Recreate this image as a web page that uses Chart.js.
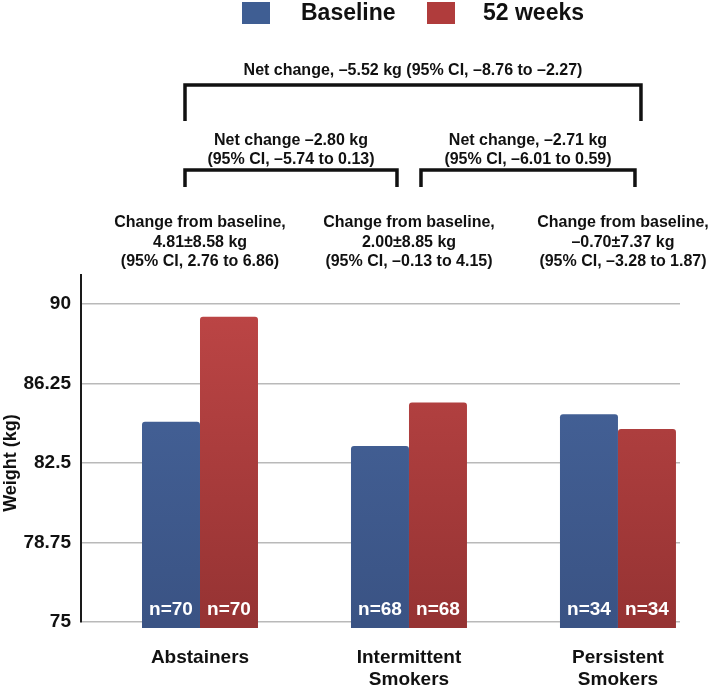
<!DOCTYPE html>
<html>
<head>
<meta charset="utf-8">
<script src="https://cdn.jsdelivr.net/npm/chart.js@4.4.0/dist/chart.umd.min.js"></script>
<style>
  body { margin: 0; background: #fff; }
  #wrap { width: 709px; height: 688px; }
</style>
</head>
<body>
<div id="wrap"><canvas id="weightChart" width="709" height="688"></canvas></div>
<script>
// data
const groups = ['Abstainers', ['Intermittent', 'Smokers'], ['Persistent', 'Smokers']];
const baseline = [84.45, 83.3, 84.8];
const week52 = [89.4, 85.35, 84.1];
const nCounts = [70, 68, 34];
const yTicks = [75, 78.75, 82.5, 86.25, 90];
const changeText = [
  ['Change from baseline,', '4.81\u00b18.58 kg', '(95% CI, 2.76 to 6.86)'],
  ['Change from baseline,', '2.00\u00b18.85 kg', '(95% CI, \u20130.13 to 4.15)'],
  ['Change from baseline,', '\u20130.70\u00b17.37 kg', '(95% CI, \u20133.28 to 1.87)']
];
const netAll = 'Net change, \u20135.52 kg (95% CI, \u20138.76 to \u20132.27)';
const netLeft = ['Net change \u20132.80 kg', '(95% CI, \u20135.74 to 0.13)'];
const netRight = ['Net change, \u20132.71 kg', '(95% CI, \u20136.01 to 0.59)'];

const FONT = '"Liberation Sans", Arial, Helvetica, sans-serif';
const BLUE = '#3f5e93';
const RED = '#b03c3c';

function barFill(top, bottom) {
    return (ctx) => {
        const area = ctx.chart.chartArea;
        if (!area) return top;
        const g = ctx.chart.ctx.createLinearGradient(0, area.top, 0, area.bottom);
        g.addColorStop(0, top);
        g.addColorStop(1, bottom);
        return g;
    };
}

const extras = {
    id: 'extras',
    afterDatasetsDraw(chart) {
        const c = chart.ctx;
        const x = chart.scales.x;
        const px = (v) => x.getPixelForValue(v);
        c.save();

        // n= labels inside bars
        c.fillStyle = '#fff';
        c.font = 'bold 19px ' + FONT;
        c.textAlign = 'center';
        c.textBaseline = 'middle';
        [0, 1].forEach(d => {
            chart.getDatasetMeta(d).data.forEach((bar, i) => {
                c.fillText('n=' + nCounts[i], bar.x, chart.chartArea.bottom - 12);
            });
        });

        // legend
        c.textAlign = 'left';
        c.font = 'bold 23px ' + FONT;
        c.fillStyle = BLUE;
        c.fillRect(242, 2, 28, 22);
        c.fillStyle = RED;
        c.fillRect(427, 2, 28, 22);
        c.fillStyle = '#111';
        c.fillText(chart.data.datasets[0].label, 301, 14);
        c.fillText(chart.data.datasets[1].label, 483, 14);

        // brackets
        c.strokeStyle = '#111';
        c.lineWidth = 3.5;
        const bracket = (x1, x2, top, bot) => {
            c.beginPath();
            c.moveTo(x1, bot);
            c.lineTo(x1, top);
            c.lineTo(x2, top);
            c.lineTo(x2, bot);
            c.stroke();
        };
        const bL = px(0) - 15, bM1 = px(1) - 12, bM2 = px(1) + 12, bR1 = px(2) + 17, bR2 = px(2) + 23;
        bracket(bL, bR2, 85, 121);
        bracket(bL, bM1, 170, 187);
        bracket(bM2, bR1, 170, 187);

        c.textAlign = 'center';
        c.font = 'bold 16px ' + FONT;
        c.fillText(netAll, (bL + bR2) / 2, 71);
        netLeft.forEach((t, k) => c.fillText(t, (bL + bM1) / 2, 141 + k * 18.5));
        netRight.forEach((t, k) => c.fillText(t, (bM2 + bR1) / 2, 141 + k * 18.5));

        changeText.forEach((lines, i) => {
            lines.forEach((t, k) => c.fillText(t, px(i) + (i === 2 ? 5 : 0), 223 + k * 19.5));
        });

        // y axis title
        c.font = 'bold 18px ' + FONT;
        c.translate(11, 463);
        c.rotate(-Math.PI / 2);
        c.fillText('Weight (kg)', 0, 0);
        c.restore();
    }
};

new Chart(document.querySelector('#weightChart'), {
    type: 'bar',
    data: {
        datasets: [{
            label: 'Baseline',
            data: baseline.map((v, i) => ({ x: i, y: v })),
            backgroundColor: barFill('#48679f', '#3a5384'),
            base: 74.72,
            clip: false
        }, {
            label: '52 weeks',
            data: week52.map((v, i) => ({ x: i, y: v })),
            backgroundColor: barFill('#c04747', '#963333'),
            base: 74.72,
            clip: false
        }]
    },
    options: {
        responsive: false,
        animation: false,
        borderRadius: 3,
        categoryPercentage: 0.555,
        barPercentage: 1,
        layout: { padding: { top: 275, right: 29, left: 0, bottom: 0 } },
        plugins: {
            legend: { display: false },
            tooltip: { enabled: false }
        },
        scales: {
            x: {
                type: 'linear',
                offset: false,
                min: -0.5694,
                max: 2.2968,
                grid: { display: false, offset: false },
                border: { display: false },
                afterBuildTicks: (scale) => { scale.ticks = groups.map((g, i) => ({ value: i })); },
                afterFit: (scale) => { scale.height = 66; },
                ticks: {
                    padding: 16,
                    color: '#111',
                    font: { family: FONT, size: 19, weight: 'bold' },
                    maxRotation: 0,
                    autoSkip: false,
                    callback: (v) => groups[v]
                }
            },
            y: {
                min: 75,
                max: 91.37,
                afterBuildTicks: (scale) => { scale.ticks = yTicks.map(v => ({ value: v })); },
                afterFit: (scale) => { scale.width = 81; },
                grid: { color: '#b9b9b9', lineWidth: 1.5, drawTicks: false },
                border: { color: '#1a1a1a', width: 2 },
                ticks: {
                    padding: 10,
                    color: '#111',
                    font: { family: FONT, size: 19, weight: 'bold' },
                    callback: (v) => String(v)
                }
            }
        }
    },
    plugins: [extras]
});
</script>
</body>
</html>
